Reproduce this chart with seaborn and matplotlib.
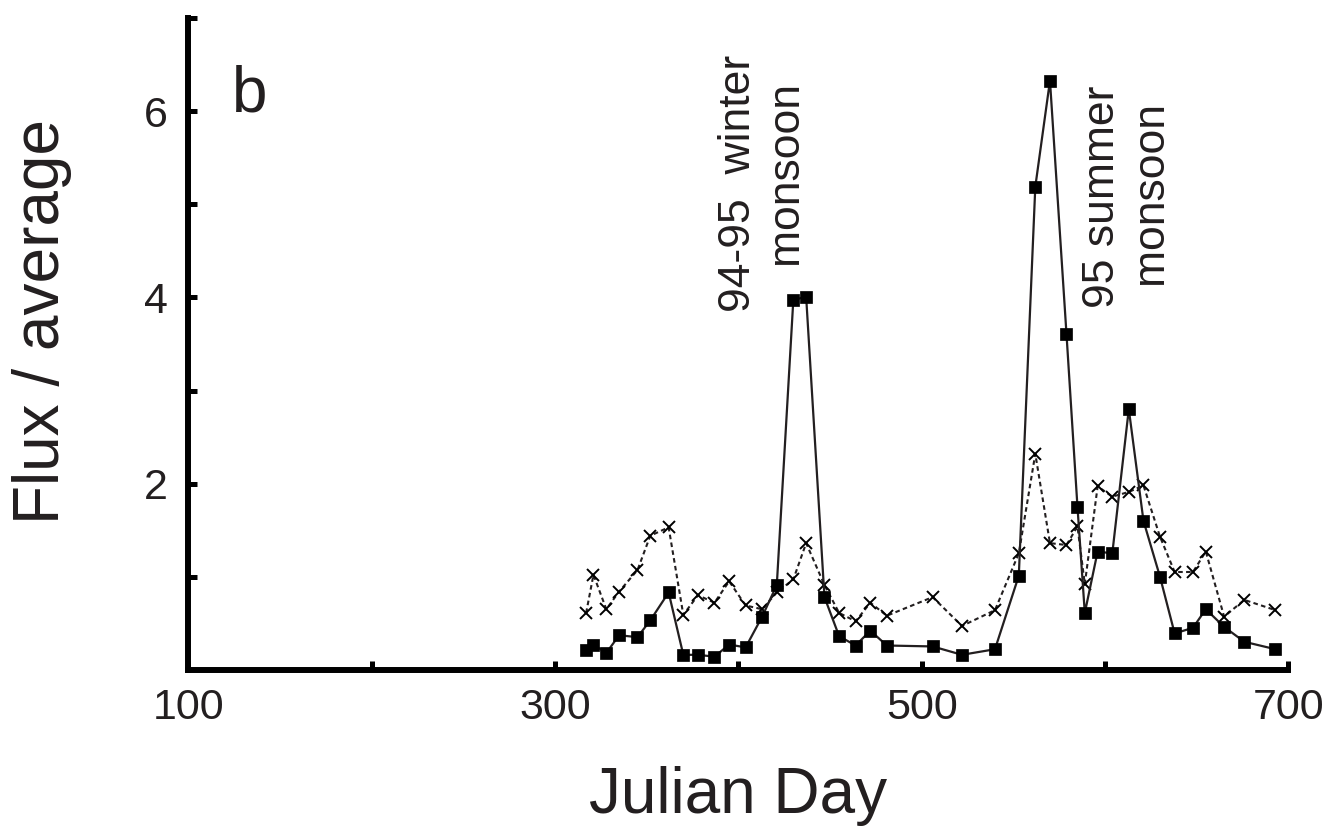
import matplotlib
matplotlib.use("Agg")
import matplotlib.pyplot as plt
from matplotlib.ticker import FixedLocator, NullFormatter
import seaborn as sns

# Sampling days (Julian day, counted from 1 Jan 1994)
julian_day = [317, 321, 328, 335, 345, 352, 362, 370, 378, 387, 395, 404, 413, 421,
              430, 437, 447, 455, 464, 472, 481, 506, 522, 540, 553, 562, 570, 579,
              585, 589, 596, 604, 613, 621, 630, 638, 648, 655, 665, 676, 693]

# Normalised flux (flux / average), solid line with squares
flux_squares = [0.21, 0.27, 0.18, 0.37, 0.35, 0.53, 0.83, 0.16, 0.16, 0.14, 0.27, 0.24,
                0.57, 0.91, 3.97, 4.01, 0.78, 0.36, 0.26, 0.42, 0.26, 0.25, 0.16, 0.22,
                1.01, 5.19, 6.33, 3.61, 1.75, 0.61, 1.27, 1.25, 2.80, 1.60, 1.00, 0.39,
                0.45, 0.65, 0.46, 0.30, 0.22]

# Normalised flux (flux / average), dotted line with crosses
flux_crosses = [0.61, 1.02, 0.65, 0.84, 1.07, 1.44, 1.53, 0.59, 0.80, 0.72, 0.95, 0.69,
                0.65, 0.83, 0.97, 1.36, 0.91, 0.61, 0.52, 0.72, 0.58, 0.78, 0.47, 0.64,
                1.25, 2.32, 1.36, 1.34, 1.54, 0.92, 1.97, 1.86, 1.91, 1.98, 1.43, 1.05,
                1.05, 1.27, 0.57, 0.75, 0.64]

x_major = [100, 300, 500, 700]
x_minor = [200, 400, 600]
y_major = [2, 4, 6]
y_minor = [1, 3, 5, 7]

panel_label = "b"
winter_lines = ["94-95  winter", "monsoon"]
summer_lines = ["95 summer", "monsoon"]

sns.set_style("ticks")
plt.rcParams["font.family"] = ["Liberation Sans", "DejaVu Sans"]

ink = "#231f20"

fig = plt.figure(figsize=(13.35, 8.27), dpi=100)
ax = fig.add_axes([0.14105, 0.19020, 0.82397, 0.78767])

sns.lineplot(x=julian_day, y=flux_crosses, ax=ax, color=ink, linewidth=1.5,
             linestyle=(0, (2.2, 1.6)), marker="x", markersize=9,
             markeredgewidth=1.4, markeredgecolor="black", zorder=3)
sns.lineplot(x=julian_day, y=flux_squares, ax=ax, color=ink, linewidth=1.6,
             linestyle="-", marker="s", markersize=9, markeredgewidth=0.5,
             markerfacecolor="black", markeredgecolor="black", zorder=4)

ax.set_xlim(100, 700)
ax.set_ylim(0, 7)

ax.xaxis.set_major_locator(FixedLocator(x_major))
ax.xaxis.set_minor_locator(FixedLocator(x_minor))
ax.yaxis.set_major_locator(FixedLocator(y_major))
ax.yaxis.set_minor_locator(FixedLocator(y_minor))
ax.xaxis.set_minor_formatter(NullFormatter())
ax.yaxis.set_minor_formatter(NullFormatter())

for side in ("top", "right"):
    ax.spines[side].set_visible(False)
for side in ("left", "bottom"):
    ax.spines[side].set_linewidth(4.3)
    ax.spines[side].set_color("black")

ax.tick_params(which="both", direction="in", length=6.3, width=3.6,
               color="black", labelsize=31, labelcolor=ink)
ax.tick_params(axis="x", which="both", pad=13)
ax.tick_params(axis="y", which="both", pad=15)

ax.set_xlabel("Julian Day", fontsize=46, color=ink, va="top")
ax.set_ylabel("Flux / average", fontsize=46, color=ink)
ax.xaxis.set_label_coords(0.5, -0.148)
ax.yaxis.set_label_coords(-0.106, 0.535)

ax.text(124, 6.0, panel_label, fontsize=46, color=ink, va="baseline", ha="left")

ax.text(406.4, 5.23, winter_lines[0], fontsize=32, color=ink, rotation=90,
        rotation_mode="anchor", ha="center", va="baseline")
ax.text(431.9, 5.34, winter_lines[1], fontsize=32, color=ink, rotation=90,
        rotation_mode="anchor", ha="center", va="baseline")
ax.text(604.9, 5.08, summer_lines[0], fontsize=32, color=ink, rotation=90,
        rotation_mode="anchor", ha="center", va="baseline")
ax.text(631.0, 5.13, summer_lines[1], fontsize=32, color=ink, rotation=90,
        rotation_mode="anchor", ha="center", va="baseline")

fig.savefig("out.png", dpi=100, facecolor="white")
